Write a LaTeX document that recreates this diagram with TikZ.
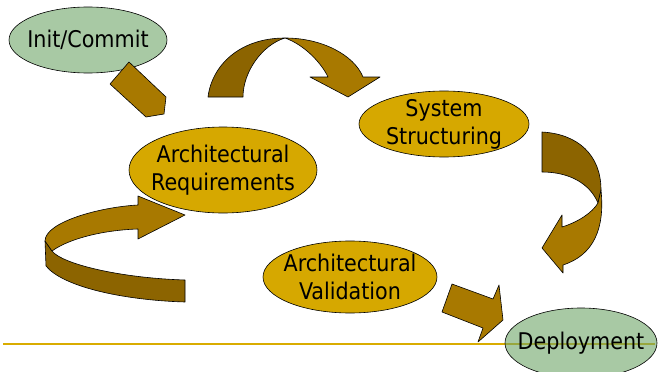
\documentclass[tikz,border=0pt]{standalone}
\usepackage{fontspec}
\setmainfont{DejaVu Sans Condensed}
\usetikzlibrary{shapes.geometric}
\definecolor{pptGoldF}{HTML}{D6A800}
\definecolor{pptGreenF}{HTML}{A8C9A4}
\definecolor{pptGreenT}{HTML}{6EA567}
\definecolor{pptBrownL}{HTML}{A87900}
\definecolor{pptBrownD}{HTML}{8C6400}
\definecolor{pptRule}{HTML}{D9AC00}
\tikzset{
  enode/.style={ellipse, draw=black, line width=0.6pt, align=center,
    inner sep=-12pt, font=\fontsize{23}{28}\selectfont},
  phase/.style={enode, fill=pptGoldF},
  milestone/.style={enode, fill=pptGreenF},
  lightband/.style={fill=pptBrownL, draw=black, line width=0.6pt, line join=round},
  darkband/.style={fill=pptBrownD, draw=black, line width=0.6pt, line join=round},
}

\begin{document}
\begin{tikzpicture}[x=1pt, y=-1pt]
  \useasboundingbox (0,0) rectangle (659,372);

  % ---- Rule ----------------------------------------------------------------
  \draw[pptRule, line width=1.4pt] (3,344) -- (655,344);

  % ---- Nodes -------------------------------------------------------------
  \node[milestone, minimum width=158pt, minimum height=66pt] (init) at (88,40) {Init/Commit};
  \node[phase, minimum width=188pt, minimum height=86pt] (req) at (223,170) {Architectural\\Requirements};
  \node[phase, minimum width=170pt, minimum height=66pt] (struct) at (444,124) {System\\Structuring};
  \node[phase, minimum width=174pt, minimum height=72pt] (valid) at (350,277) {Architectural\\Validation};
  \node[milestone, fill=pptGreenT, minimum width=152pt, minimum height=70pt,
    fill opacity=0.6, text opacity=1] (deploy) at (581,343) {Deployment};

  % ---- Block arrows --------------------------------------------------------
  % init -> requirements
  \draw[lightband] (110,84) -- (129,62) -- (166,97) -- (164,114) -- (146,117) -- cycle;

  % requirements -> structuring (ribbon over the top)
  \draw[darkband] (208,97) .. controls (212,65) and (240,38) .. (285,38)
    .. controls (262,45) and (243,72) .. (243,97) -- cycle;
  \draw[lightband] (285,38) .. controls (322,38) and (354,55) .. (363,77)
    -- (380,77) -- (348,97) -- (310,77) -- (328,77)
    .. controls (322,64) and (305,45) .. (285,38) -- cycle;

  % structuring -> deployment (ribbon on the right)
  \draw[darkband] (542,132) .. controls (578,134) and (601,155) .. (601,190)
    -- (598,203) .. controls (590,184) and (570,172) .. (542,172) -- cycle;
  \draw[lightband] (598,203) -- (601,190) .. controls (605,228) and (594,255) .. (563,265)
    -- (563,273) -- (542,248) -- (562,215) -- (562,227)
    .. controls (578,222) and (592,213) .. (598,203) -- cycle;

  % iteration loop back into requirements
  \draw[darkband] (45,241) -- (46,266) .. controls (62,286) and (120,300) .. (185,302)
    -- (185,280) .. controls (120,278) and (62,264) .. (52,251) -- cycle;
  \draw[lightband] (185,215) -- (138,196) -- (138,205)
    .. controls (100,207) and (45,222) .. (45,241) -- (52,251)
    .. controls (70,238) and (105,230) .. (138,229) -- (138,239) -- cycle;

  % validation -> deployment
  \draw[lightband] (452,284) -- (493,299) -- (499,285) -- (503,320) -- (478,342)
    -- (483,328) -- (442,312) -- cycle;
\end{tikzpicture}
\end{document}
